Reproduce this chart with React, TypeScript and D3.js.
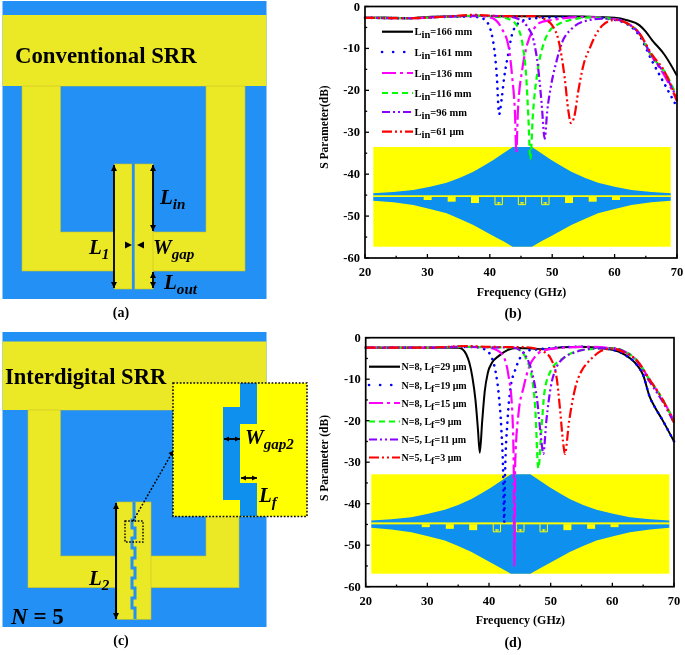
import React from "react";
import * as d3 from "d3";

type P = [number, number];

// ---- panel (b) series: [GHz, dB]
const bBlack: P[] = [[20,-2.7],[23,-2.6],[27,-2.8],[30,-2.5],[35,-2.3],[38,-2.2],[42,-2.3],[50,-2.3],[55,-2.4],[60,-2.7],[62,-3.3],[64,-4.5],[65,-6],[66,-8],[68,-11.5],[70,-16.5]];
const bBlue: P[] = [[20,-2.7],[27,-2.8],[32,-2.5],[37,-2.4],[38.5,-2.7],[39.5,-3.6],[40.2,-6],[40.7,-10],[41.1,-16],[41.5,-25.7],[41.9,-22],[42.3,-17],[43,-11],[43.5,-7],[44,-5],[45,-3.6],[46.5,-2.9],[50,-2.6],[55,-2.5],[60,-3.2],[62,-4.2],[64,-7],[66,-13],[68,-18.5],[70,-24]];
const bMagenta: P[] = [[20,-2.7],[27,-2.8],[32,-2.5],[38,-2.3],[40,-2.6],[41,-3.3],[42,-5.5],[43,-9.5],[43.6,-17],[44.05,-26],[44.25,-34.8],[44.5,-25],[45.2,-15],[46,-9],[47,-5.5],[48,-3.9],[50,-3.2],[55,-2.5],[60,-3],[62,-4],[64,-6.5],[66,-12],[68,-16.5],[70,-22.5]];
const bGreen: P[] = [[20,-2.7],[27,-2.8],[32,-2.5],[38,-2.2],[42,-2.6],[43.5,-3.3],[44.5,-5],[45.3,-9.5],[45.8,-16],[46.2,-27],[46.5,-36.5],[46.9,-26],[47.6,-16],[48.5,-9.5],[49.5,-6],[51,-4.2],[53,-3.2],[56,-2.6],[60,-3],[62,-4],[64,-6.5],[66,-12],[68,-15.5],[70,-21.5]];
const bPurple: P[] = [[20,-2.7],[27,-2.8],[32,-2.5],[38,-2.2],[43,-2.4],[45,-3.3],[46,-4.8],[47,-8],[47.7,-14],[48.3,-23],[48.8,-31.5],[49.2,-25],[49.8,-19],[50.7,-13],[51.6,-8.5],[53,-5.5],[55,-3.6],[58,-2.9],[60,-3],[62,-4],[64,-6.5],[66,-12],[68,-16],[70,-22]];
const bRed: P[] = [[20,-2.7],[27,-2.8],[32,-2.5],[37.5,-2],[42,-2.3],[47,-2.3],[49,-3.2],[50,-4.5],[51,-8],[52,-17],[52.6,-25],[53,-27.8],[53.5,-26.5],[54.2,-20],[55,-14],[56,-10],[57,-6.7],[58,-4.6],[60,-3.2],[62,-4],[64,-6.5],[66,-11.5],[68,-15.5],[70,-22.5]];

// ---- panel (d) series: [GHz, dB]
const dBlack: P[] = [[20,-2.4],[30,-2.4],[35,-2.4],[35.7,-2.8],[36.3,-4],[36.8,-6],[37.3,-9.5],[37.8,-15],[38.2,-22],[38.5,-27.7],[38.9,-20],[39.3,-13],[39.8,-8.5],[40.5,-6],[41.5,-4.5],[43,-3],[44.5,-2.5],[47,-2.6],[49,-2.8],[52,-2.3],[55,-2.2],[60,-2.9],[62,-4.1],[64,-6.6],[65,-9],[66,-14],[67,-17],[68,-19.5],[70,-25]];
const dBlue: P[] = [[20,-2.4],[30,-2.4],[36,-2.2],[38,-2.3],[39.5,-3],[40.5,-5],[41.1,-8.5],[41.6,-14],[42,-22],[42.3,-33],[42.45,-44.5],[42.6,-33],[43,-20],[43.5,-12],[44.2,-8],[45,-5],[46,-3.2],[48,-2.8],[52,-2.3],[55,-2.2],[60,-2.9],[62,-4.1],[64,-6.6],[65,-9],[66,-14],[67,-17],[68,-19.5],[70,-25]];
const dMagenta: P[] = [[20,-2.4],[30,-2.4],[36,-2.2],[40,-2.4],[41.5,-3.2],[42.5,-5],[43.2,-9.5],[43.7,-16],[44,-30],[44.1,-55],[44.25,-30],[44.8,-18],[45.6,-12],[46.5,-7],[47.5,-4.5],[49,-3],[52,-2.4],[56,-2.2],[60,-2.6],[62,-3.4],[64,-5.5],[66,-10],[68,-14.5],[70,-20]];
const dGreen: P[] = [[20,-2.4],[30,-2.4],[36,-2.2],[40,-2.3],[44,-2.4],[45,-3],[46,-5],[47,-10],[47.5,-17],[48,-31.5],[48.5,-22],[49,-13],[50,-8],[51,-6],[52,-5],[53,-4],[55,-3],[60,-2.5],[62,-3.3],[64,-5.5],[66,-10],[68,-14.5],[70,-20]];
const dPurple: P[] = [[20,-2.4],[30,-2.4],[36,-2.2],[40,-2.3],[44,-2.4],[45,-3],[46,-4.5],[47,-8.5],[47.8,-15],[48.5,-25],[48.8,-28],[49.3,-20],[50,-12],[51,-7],[52,-5],[54,-3.5],[57,-2.6],[60,-2.5],[62,-3.4],[64,-5.7],[66,-10.5],[68,-15],[70,-20.5]];
const dRed: P[] = [[20,-2.4],[30,-2.4],[36.5,-2],[40,-2.2],[46,-2.3],[48,-2.8],[49,-3.5],[50,-5],[51,-10],[51.5,-17],[52,-25],[52.3,-28],[53,-20],[54,-12],[55,-8],[56,-6],[57,-4.5],[58,-3.3],[60,-2.6],[62,-3.6],[64,-5.5],[66,-10],[68,-14.5],[70,-20.5]];

const colors = ["#000000", "#0000ff", "#ff00ff", "#00ff00", "#8a00ff", "#ff0000"];
const dashes = ["none", "0.1 6.5", "14 4 3 4", "6 4", "8 3 2 3 2 3", "10 3 2 3 2 3"];
const bSeries = [bBlack, bBlue, bMagenta, bGreen, bPurple, bRed];
const dSeries = [dBlack, dBlue, dMagenta, dGreen, dPurple, dRed];
const bValues = ["166 mm", "161 mm", "136 mm", "116 mm", "96 mm", "61 μm"];
const dNs = ["N=8, L", "N=8, L", "N=8, L", "N=8, L", "N=5, L", "N=5, L"];
const dValues = ["=29 μm", "=19 μm", "=15 μm", "=9 μm", "=11 μm", "=3 μm"];
const xTicks = [20, 30, 40, 50, 60, 70];
const xMinor = [25, 35, 45, 55, 65];
const yTicks = [0, -10, -20, -30, -40, -50, -60];
const yMinor = [-5, -15, -25, -35, -45, -55];

// ---- inset profile, in its own units
const insetTop: P[] = [[130,580],[190,576],[250,570],[300,560],[350,548],[390,533],[430,515],[460,498],[490,480],[520,460],[548,441],[606,441],[634,460],[664,480],[694,498],[724,515],[764,533],[804,548],[854,560],[904,570],[964,576],[1022,580]];
const insetBottom: P[] = [[130,602],[190,607],[250,615],[300,627],[350,640],[390,657],[430,675],[490,708],[520,724],[548,740],[606,740],[634,724],[664,708],[724,675],[764,657],[804,640],[854,627],[904,615],[964,607],[1022,602]];
const teeth: P[] = [[293,5],[365,10],[435,14],[717,14],[788,10],[858,5]];
const boxes = [506, 576, 646];

// ---- diagram geometry
const gapTurns: P[] = [[134,502],[134,512],[134,520],[132,520],[132,528],[135,528],[135,538],[132,538],[132,548],[135,548],[135,558],[132,558],[132,568],[135,568],[135,578],[132,578],[132,588],[135,588],[135,598],[132,598],[132,608],[135,608],[135,619]];
const inset2Gap: P[] = [[240,383],[257,383],[257,424],[240,424],[240,483],[257,483],[257,516],[240,516],[240,500],[223,500],[223,407],[240,407]];

const serif = "'Liberation Serif','Times New Roman',serif";
const Y1 = "#ebe828", B1 = "#2090f5", EDGE = "#c9c22a";
const Y2 = "#ffff00", B2 = "#0c90ee";

const poly = (pts: P[]) => d3.line()(pts) + "Z";

function Arrow({ x1, y1, x2, y2, w = 1.8, h = 6 }: any) {
  const a = Math.atan2(y2 - y1, x2 - x1);
  const head = (x: number, y: number, t: number) => {
    const c = Math.cos(t), s = Math.sin(t);
    return poly([[x, y], [x - h * c - (h / 2) * s, y - h * s + (h / 2) * c], [x - h * c + (h / 2) * s, y - h * s - (h / 2) * c]]);
  };
  return (
    <g>
      <line x1={x1} y1={y1} x2={x2} y2={y2} stroke="#000" strokeWidth={w} />
      <path d={head(x2, y2, a)} fill="#000" />
      <path d={head(x1, y1, a + Math.PI)} fill="#000" />
    </g>
  );
}

function Sym({ x, y, m, s, size = 21 }: any) {
  return (
    <text x={x} y={y} fontFamily={serif} fontWeight="bold" fontStyle="italic" fontSize={size} fill="#000">
      {m}
      <tspan dy={size * 0.22} fontSize={size * 0.72}>{s}</tspan>
    </text>
  );
}

function Inset({ x0, x1, y0, y1 }: any) {
  const sx = d3.scaleLinear().domain([130, 1022]).range([x0, x1]);
  const sy = d3.scaleLinear().domain([441, 740]).range([y0, y1]);
  const up = d3.area<P>().x(d => sx(d[0])).y0(sy(587)).y1(d => sy(d[1]))(insetTop);
  const lo = d3.area<P>().x(d => sx(d[0])).y0(sy(591)).y1(d => sy(d[1]))(insetBottom);
  return (
    <g>
      <rect x={x0} y={y0} width={x1 - x0} height={y1 - y0} fill={Y2} />
      <path d={up!} fill={B2} />
      <path d={lo!} fill={B2} />
      <rect x={x0} y={sy(586)} width={x1 - x0} height={sy(591) - sy(586)} fill={Y2} />
      {teeth.map(([c, h]) => (
        <rect key={c} x={sx(c - 12)} y={sy(591)} width={sx(24) - sx(0)} height={sy(591 + h + 4) - sy(591)} fill={Y2} />
      ))}
      {boxes.map(c => (
        <g key={c}>
          <path d={d3.line()([[sx(c - 11), sy(591)], [sx(c - 11), sy(614)], [sx(c + 11), sy(614)], [sx(c + 11), sy(591)]])!} fill="none" stroke={Y2} strokeWidth={1} />
          <rect x={sx(c) - 0.5} y={sy(606)} width={1} height={sy(614) - sy(606)} fill={Y2} />
          <rect x={sx(c) - 2} y={sy(607)} width={4} height={1} fill={Y2} />
        </g>
      ))}
    </g>
  );
}

function Chart({ x0, x1, y0, y1, series, inset, title, titleBase, ylabel, ylabelY, tag, tagBase, legend }: any) {
  const x = d3.scaleLinear().domain([20, 70]).range([x0, x1]);
  const y = d3.scaleLinear().domain([0, -60]).range([y0, y1]);
  const line = d3.line<P>().x(d => x(d[0])).y(d => y(d[1])).curve(d3.curveMonotoneX);
  const cx = (x0 + x1) / 2;
  return (
    <g fontFamily={serif} fontWeight="bold" fill="#000">
      <Inset {...inset} />
      {series.map((s: P[], i: number) => (
        <path key={i} d={line(s)!} fill="none" stroke={colors[i]} strokeWidth={i === 0 ? 2 : i === 1 ? 2.6 : 2.2} strokeDasharray={dashes[i]} strokeLinecap={i === 1 ? "round" : "butt"} />
      ))}
      <rect x={x0} y={y0} width={x1 - x0} height={y1 - y0} fill="none" stroke="#000" strokeWidth={1.7} />
      {xTicks.map(t => <line key={t} x1={x(t)} x2={x(t)} y1={y1} y2={y1 - 4} stroke="#000" strokeWidth={1.3} />)}
      {xMinor.map(t => <line key={t} x1={x(t)} x2={x(t)} y1={y1} y2={y1 - 2.2} stroke="#000" strokeWidth={1.3} />)}
      {yTicks.map(t => <line key={t} x1={x0} x2={x0 + 4} y1={y(t)} y2={y(t)} stroke="#000" strokeWidth={1.3} />)}
      {yMinor.map(t => <line key={t} x1={x0} x2={x0 + 2.2} y1={y(t)} y2={y(t)} stroke="#000" strokeWidth={1.3} />)}
      {xTicks.map(t => <text key={t} x={x(t)} y={y1 + 18} textAnchor="middle" fontSize={12.5}>{t}</text>)}
      {yTicks.map(t => <text key={t} x={x0 - 5} y={y(t) + 4} textAnchor="end" fontSize={12.5}>{t}</text>)}
      <text x={cx + 0.5} y={titleBase} textAnchor="middle" fontSize={12}>{title}</text>
      <text transform={`translate(328,${ylabelY}) rotate(-90)`} textAnchor="middle" fontSize={11.5}>{ylabel}</text>
      <text x={513} y={tagBase} textAnchor="middle" fontSize={14}>{tag}</text>
      {legend.map((l: any, i: number) => (
        <g key={i}>
          <line x1={l.x0} x2={l.x1} y1={l.y} y2={l.y} stroke={colors[i]} strokeWidth={i === 1 ? 2.6 : 2.2} strokeDasharray={i === 1 ? "0.1 11" : dashes[i]} strokeLinecap={i === 1 ? "round" : "butt"} />
          <text x={l.x1 + 1.5} y={l.y + 3.5} fontSize={l.fs}>
            {l.a}
            <tspan dy={3} fontSize={l.fs}>{l.s}</tspan>
            <tspan dy={-3}>{l.b}</tspan>
          </text>
        </g>
      ))}
    </g>
  );
}

function PanelA() {
  return (
    <g>
      <rect x={2.5} y={1} width={264} height={298} fill={B1} />
      <rect x={2.5} y={15} width={264} height={71} fill={Y1} />
      <rect x={22} y={86} width={223} height={185} fill={Y1} stroke={EDGE} strokeWidth={0.6} />
      <rect x={60.5} y={86} width={145.5} height={146} fill={B1} stroke={EDGE} strokeWidth={0.6} />
      <rect x={60.5} y={84} width={145.5} height={2} fill={Y1} />
      <rect x={114.5} y={164} width={17.5} height={125} fill={Y1} stroke={EDGE} strokeWidth={0.6} />
      <rect x={134.5} y={164} width={18.5} height={125} fill={Y1} stroke={EDGE} strokeWidth={0.6} />
      <rect x={132} y={164} width={2.5} height={125} fill={B1} />
      <text x={15} y={63} fontFamily={serif} fontWeight="bold" fontSize={22.8}>Conventional SRR</text>
      <Arrow x1={114} y1={165} x2={114} y2={288} />
      <Arrow x1={153} y1={165} x2={153} y2={231} />
      <Arrow x1={153} y1={272} x2={153} y2={288} />
      <path d={poly([[132, 245], [125, 241.5], [125, 248.5]])} fill="#000" />
      <path d={poly([[137, 245], [144, 241.5], [144, 248.5]])} fill="#000" />
      <Sym x={160} y={204} m="L" s="in" />
      <Sym x={89} y={254} m="L" s="1" />
      <Sym x={153} y={254} m="W" s="gap" />
      <Sym x={164} y={289} m="L" s="out" />
      <text x={121} y={317} textAnchor="middle" fontFamily={serif} fontWeight="bold" fontSize={14}>(a)</text>
    </g>
  );
}

function PanelC() {
  return (
    <g>
      <rect x={2.5} y={332} width={264} height={295} fill={B1} />
      <rect x={2.5} y={341.5} width={264} height={68.5} fill={Y1} />
      <rect x={28} y={410} width={211} height={177.7} fill={Y1} stroke={EDGE} strokeWidth={0.6} />
      <rect x={60.5} y={410} width={145.5} height={146} fill={B1} stroke={EDGE} strokeWidth={0.6} />
      <rect x={60.5} y={408} width={145.5} height={2} fill={Y1} />
      <rect x={117} y={502} width={34} height={117.3} fill={Y1} stroke={EDGE} strokeWidth={0.6} />
      <path d={d3.line()(gapTurns)!} fill="none" stroke={B1} strokeWidth={3} />
      <text x={5} y={384} fontFamily={serif} fontWeight="bold" fontSize={22.6}>Interdigital SRR</text>
      <rect x={125} y={521} width={18} height={21} fill="none" stroke="#000" strokeWidth={1.4} strokeDasharray="1.6 1.6" />
      <line x1={133} y1={521} x2={172} y2={453} stroke="#000" strokeWidth={1.5} strokeDasharray="1.8 1.8" />
      <path d={poly([[175, 450], [168.5, 453], [173, 457]])} fill="#000" />
      <rect x={173} y={383} width={134} height={133.5} fill={Y2} />
      <path d={poly(inset2Gap)} fill={B2} />
      <rect x={173} y={383} width={134} height={133.5} fill="none" stroke="#000" strokeWidth={1.5} strokeDasharray="1.7 1.7" />
      <Arrow x1={224} y1={439} x2={240} y2={439} h={5} />
      <Arrow x1={241} y1={478} x2={257} y2={478} h={5} />
      <Sym x={245} y={444} m="W" s="gap2" size={21} />
      <Sym x={259} y={502} m="L" s="f" size={21} />
      <Arrow x1={116} y1={503} x2={116} y2={619} w={2} />
      <Sym x={89} y={585} m="L" s="2" />
      <text x={11} y={624} fontFamily={serif} fontWeight="bold" fontSize={23}>
        <tspan fontStyle="italic">N</tspan> = 5
      </text>
      <text x={121} y={645} textAnchor="middle" fontFamily={serif} fontWeight="bold" fontSize={14}>(c)</text>
    </g>
  );
}

const bLegendRows = [31.7, 52, 73, 93, 112, 131.7];
const dLegendRows = [366.7, 385, 403, 421.5, 439.5, 457.5];

export default function App() {
  const bLegend = bValues.map((v, i) => ({ x0: 382, x1: 413, y: bLegendRows[i], a: "L", s: "in", b: "=" + v, fs: 10.5 }));
  const dLegend = dValues.map((v, i) => ({ x0: 369, x1: 400, y: dLegendRows[i], a: dNs[i], s: "f", b: v, fs: 10 }));
  return (
    <svg width={685} height={655} viewBox="0 0 685 655" style={{ position: "absolute", left: 0, top: 0, background: "#fff" }}>
      <defs>
        <filter id="soft" x="0" y="0" width="100%" height="100%"><feGaussianBlur stdDeviation="0.35" /></filter>
      </defs>
      <g filter="url(#soft)">
        <PanelA />
        <PanelC />
        <Chart x0={365} x1={677} y0={6.5} y1={258} series={bSeries}
          inset={{ x0: 373.3, x1: 670.7, y0: 147, y1: 246.7 }}
          title="Frequency (GHz)" titleBase={296} ylabel="S Parameter(dB)" ylabelY={127}
          tag="(b)" tagBase={318} legend={bLegend} />
        <Chart x0={365.7} x1={674} y0={337.7} y1={586.7} series={dSeries}
          inset={{ x0: 371.3, x1: 669.3, y0: 474.3, y1: 573.7 }}
          title="Frequency (GHz)" titleBase={624} ylabel="S Parameter (dB)" ylabelY={458}
          tag="(d)" tagBase={647} legend={dLegend} />
      </g>
    </svg>
  );
}
